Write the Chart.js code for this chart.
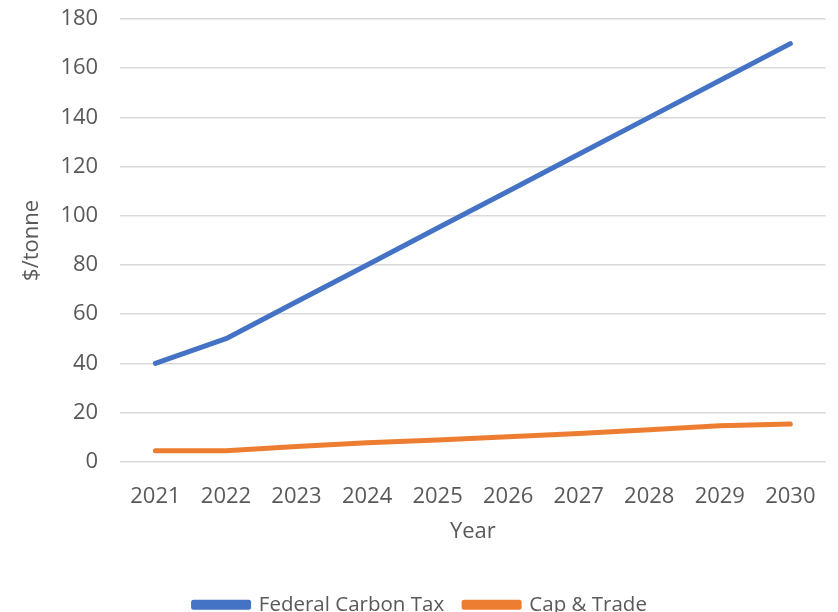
<!DOCTYPE html>
<html>
<head>
<meta charset="utf-8">
<script src="https://cdn.jsdelivr.net/npm/chart.js@4/dist/chart.umd.min.js"></script>
<style>
html,body{margin:0;padding:0;background:#fff;overflow:hidden;}
#wrap{width:838px;height:632px;}
</style>
</head>
<body>
<div id="wrap"><canvas id="c" width="838" height="632"></canvas></div>
<script>
const years = ['2021','2022','2023','2024','2025','2026','2027','2028','2029','2030'];
const federalCarbonTax = [40, 50, 65, 80, 95, 110, 125, 140, 155, 170];
const capAndTrade = [4.5, 4.5, 6.2, 7.7, 8.8, 10.1, 11.5, 13, 14.6, 15.3];
const yTicks = [0, 20, 40, 60, 80, 100, 120, 140, 160, 180];

const FONT = "'Open Sans', sans-serif";
const TXT = '#595959';

new Chart(document.getElementById('c'), {
  type: 'line',
  data: {
    labels: years,
    datasets: [
      {label: 'Federal Carbon Tax', data: federalCarbonTax, borderColor: '#4472C4', backgroundColor: '#4472C4', borderWidth: 5, pointRadius: 0, tension: 0, borderCapStyle: 'round', borderJoinStyle: 'round'},
      {label: 'Cap & Trade', data: capAndTrade, borderColor: '#ED7D31', backgroundColor: '#ED7D31', borderWidth: 5, pointRadius: 0, tension: 0, borderCapStyle: 'round', borderJoinStyle: 'round'}
    ]
  },
  options: {
    responsive: false,
    animation: false,
    layout: {padding: {top: 19, right: 10, left: 12.5, bottom: 7}},
    plugins: {
      tooltip: {enabled: false},
      legend: {
        position: 'bottom',
        labels: {
          font: {family: FONT, size: 20.5},
          color: TXT,
          boxWidth: 55,
          boxHeight: 5,
          padding: 20
        }
      }
    },
    scales: {
      x: {
        offset: true,
        grid: {display: false, drawTicks: false},
        border: {display: false},
        ticks: {font: {family: FONT, size: 22}, color: TXT, padding: 22},
        title: {display: true, text: 'Year', font: {family: FONT, size: 22}, color: TXT, padding: {top: -14, bottom: 30}}
      },
      y: {
        min: 0, max: 180,
        afterBuildTicks: (axis) => { axis.ticks = yTicks.map(v => ({value: v})); },
        afterFit: (axis) => { axis.paddingTop = 0; axis.paddingBottom = 0; },
        grid: {color: '#d9d9d9', lineWidth: 1.5, drawTicks: false},
        border: {display: false},
        ticks: {font: {family: FONT, size: 22}, color: TXT, padding: 22},
        title: {display: true, text: '$/tonne', font: {family: FONT, size: 22}, color: TXT, padding: {top: 6, bottom: -6.5}}
      }
    }
  }
});
</script>
</body>
</html>
